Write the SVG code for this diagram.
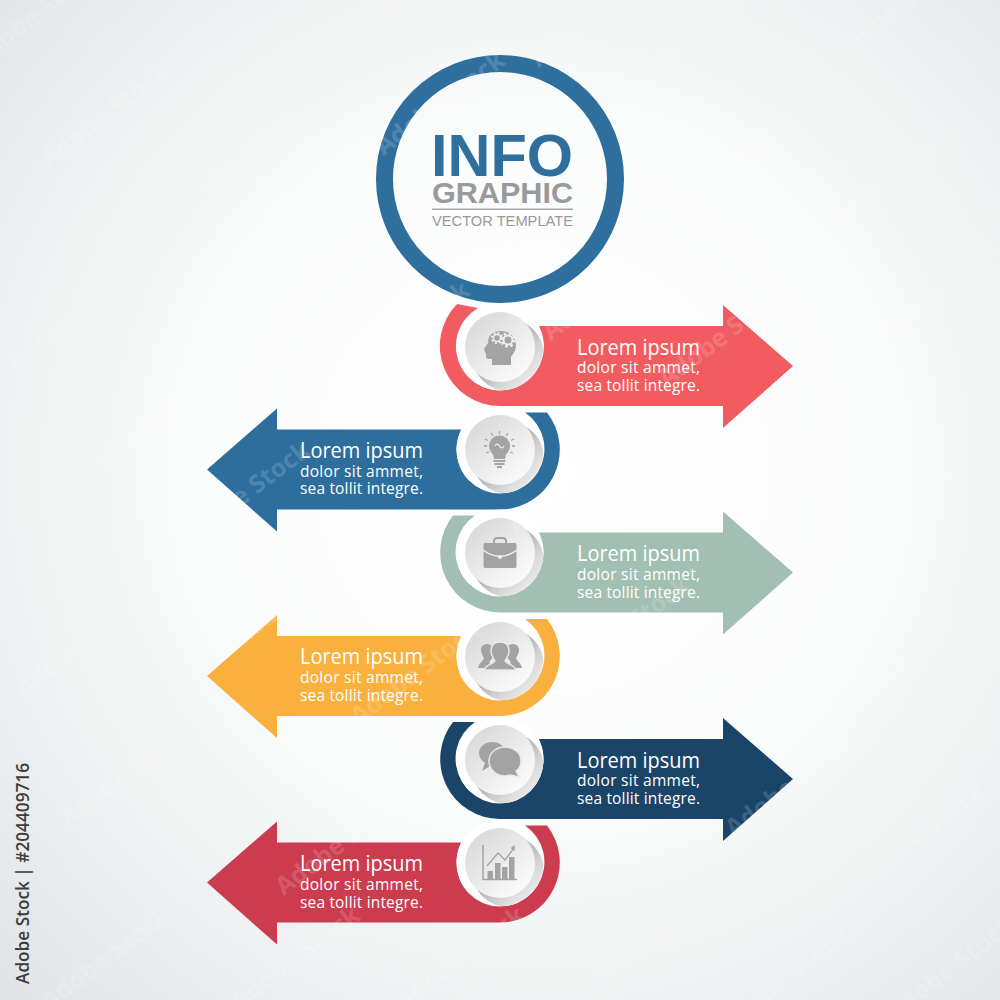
<svg xmlns="http://www.w3.org/2000/svg" xmlns:xlink="http://www.w3.org/1999/xlink" width="1000" height="1000" viewBox="0 0 1000 1000">
<style>
.wm{font:700 25px "Open Sans",sans-serif;fill:#fff;fill-opacity:.17;text-anchor:middle}
.t1{font:400 21px "Open Sans",sans-serif;fill:#fff}
.t2{font:400 15.5px "Open Sans",sans-serif;fill:#fff}
.ic{fill:#a3a3a3}
.icl{fill:none;stroke:#a3a3a3}
.icw{fill:none;stroke:#eeeeee}
.hd{font-family:"Liberation Sans",Arial,sans-serif}
</style>
<defs>
<radialGradient id="bg" gradientUnits="userSpaceOnUse" cx="540" cy="470" r="740">
<stop offset="0" stop-color="#ffffff"/><stop offset=".45" stop-color="#fbfcfc"/><stop offset="1" stop-color="#e2e5e7"/>
</radialGradient>
<linearGradient id="discG" x1=".15" y1=".1" x2=".85" y2=".9">
<stop offset="0" stop-color="#dadada"/><stop offset="1" stop-color="#fbfbfb"/>
</linearGradient>
<linearGradient id="shG" x1=".45" y1=".45" x2=".95" y2=".95">
<stop offset="0" stop-color="#b4b4b4"/><stop offset=".5" stop-color="#dcdcdc"/><stop offset="1" stop-color="#f8f8f8"/>
</linearGradient>
<clipPath id="ringClip"><circle r="43.5"/></clipPath>
<path id="arrowShape" d="M453,-37 A60,60 0 0 0 500,60 L723,60 L723,82 L793,20 L723,-41 L723,-20 L539,-20 A44,44 0 1 1 475,-37 Z"/>
<path id="arrowFirst" d="M457,-42 A60,60 0 0 0 500,60 L723,60 L723,82 L793,20 L723,-41 L723,-20 L539,-20 A44,44 0 1 1 478,-38 Z"/>
<g id="disc">
<circle r="43.5" fill="#fff"/>
<g clip-path="url(#ringClip)"><circle cx="8" cy="8" r="36" fill="url(#shG)"/></g>
<circle r="35" fill="url(#discG)"/>
</g>
<g id="wmT"><text class="wm" x="0" y="0" transform="rotate(-37)">Adobe Stock</text></g>
</defs>
<rect id="background" width="1000" height="1000" fill="url(#bg)"/>
<g id="connectors">
<use id="a1" href="#arrowFirst" y="346" fill="#f25c60"/>
<use id="a2" href="#arrowShape" transform="translate(1000,449.5) scale(-1,1)" fill="#2d6e9d"/>
<use id="a3" href="#arrowShape" y="552.5" fill="#a2bfb3"/>
<use id="a4" href="#arrowShape" transform="translate(1000,656) scale(-1,1)" fill="#f9b03d"/>
<use id="a5" href="#arrowShape" y="759" fill="#1b4469"/>
<use id="a6" href="#arrowShape" transform="translate(1000,862.500) scale(-1,1)" fill="#cc3b4e"/>
</g>
<g id="title">
<circle cx="500" cy="179" r="115.500" fill="none" stroke="#2f6f9e" stroke-width="17"/>
<text class="hd" x="431" y="176" font-size="60" font-weight="700" fill="#2f6f9e" textLength="142" lengthAdjust="spacingAndGlyphs">INFO</text>
<text class="hd" x="432" y="203" font-size="29.500" font-weight="700" fill="#999a9b" textLength="141" lengthAdjust="spacingAndGlyphs">GRAPHIC</text>
<rect x="432" y="208.500" width="141" height="1.500" fill="#a5a5a5"/>
<text class="hd" x="432" y="226" font-size="15.500" fill="#9a9a9a" textLength="141" lengthAdjust="spacingAndGlyphs">VECTOR TEMPLATE</text>
</g>
<g id="node1">
<use href="#disc" x="500" y="347"/>
<path class="ic" d="M484,349 L488,343 C488,334 494,331 501,331 C510,331 516,337 516,345 C516,351 513,354 511,357 L511,365 L492,365 L492,359 L488,359 C486,359 486,356 486,354 L485,352 Z"/>
<circle class="icw" cx="497" cy="338" r="3.500" stroke-width="1.500"/><circle class="icw" cx="497" cy="338" r="5" stroke-width="2" stroke-dasharray="2 1.900"/>
<circle class="icw" cx="508" cy="340" r="4.500" stroke-width="2"/><circle class="icw" cx="508" cy="340" r="6.500" stroke-width="2.500" stroke-dasharray="2.500 2.600"/>
<text class="t1" x="577" y="355" textLength="123" lengthAdjust="spacingAndGlyphs">Lorem ipsum</text>
<text class="t2" x="577" y="373" textLength="123" lengthAdjust="spacing">dolor sit ammet,</text>
<text class="t2" x="577" y="391" textLength="123" lengthAdjust="spacing">sea tollit integre.</text>
</g>
<g id="node2">
<use href="#disc" x="500" y="450"/>
<circle class="ic" cx="499.500" cy="446" r="10.500"/>
<path class="ic" d="M493,453 L506,453 L505,459 L494,459 Z"/>
<path class="icl" stroke-width="2" d="M493.500,461 H505.500 M494.500,464 H504.500 M497,467 H502"/>
<path class="icw" stroke-width="1.300" d="M495,446 C496.500,443.500 498,443.500 499.500,446 C501,448.500 502.500,448.500 504,446"/>
<path class="icl" stroke-width="1.300" d="M499.500,431 V434 M491,433 L493,436 M508,433 L506,436 M485,439 L488,440.500 M514,439 L511,440.500 M484,446 H487 M515,446 H512 M486,453 L489,452 M513,453 L510,452"/>
<text class="t1" x="300" y="457.500" textLength="123" lengthAdjust="spacingAndGlyphs">Lorem ipsum</text>
<text class="t2" x="300" y="476.500" textLength="123" lengthAdjust="spacing">dolor sit ammet,</text>
<text class="t2" x="300" y="494" textLength="123" lengthAdjust="spacing">sea tollit integre.</text>
</g>
<g id="node3">
<use href="#disc" x="500" y="553"/>
<path class="icl" stroke-width="2" d="M494,543 V541 C494,538.500 496,538 498,538 H502 C504,538 506,538.500 506,541 V543"/>
<path class="ic" d="M485,543 H515 Q516.500,543 516.500,545 V566 Q516.500,568 515,568 H485 Q483.500,568 483.500,566 V545 Q483.500,543 485,543 Z"/>
<path class="icw" stroke-width="1.500" d="M483,550 Q491,556 500,556.500 Q509,556 517,550"/>
<circle cx="500" cy="557" r="2" fill="#eeeeee"/>
<text class="t1" x="577" y="561" textLength="123" lengthAdjust="spacingAndGlyphs">Lorem ipsum</text>
<text class="t2" x="577" y="580" textLength="123" lengthAdjust="spacing">dolor sit ammet,</text>
<text class="t2" x="577" y="597.500" textLength="123" lengthAdjust="spacing">sea tollit integre.</text>
</g>
<g id="node4">
<use href="#disc" x="500" y="657"/>
<path class="ic" d="M487,644 C491,644 494,647 494,651 C494,656 491,660 490,661 L488,668 H478 C479,663 483,661 484,658 C482,655 481,652 481,650 C481,646 484,644 487,644 Z"/>
<path class="ic" d="M513,644 C509,644 506,647 506,651 C506,656 509,660 510,661 L512,668 H522 C521,663 517,661 516,658 C518,655 519,652 519,650 C519,646 516,644 513,644 Z"/>
<path class="ic" stroke="#e8e8e8" stroke-width="1.500" d="M500,642 C506,642 509,646 509,651 C509,656 506,659 505,661 C506,664 514,664 516,670 H484 C486,664 494,664 495,661 C494,659 491,656 491,651 C491,646 494,642 500,642 Z"/>
<text class="t1" x="300" y="664" textLength="123" lengthAdjust="spacingAndGlyphs">Lorem ipsum</text>
<text class="t2" x="300" y="683" textLength="123" lengthAdjust="spacing">dolor sit ammet,</text>
<text class="t2" x="300" y="700.500" textLength="123" lengthAdjust="spacing">sea tollit integre.</text>
</g>
<g id="node5">
<use href="#disc" x="500" y="760"/>
<path class="ic" d="M492,742 C501,742 506,748 506,754 C506,761 500,765 492,765 L482,771 L485,763 C481,760 479,757 479,753 C479,747 485,742 492,742 Z"/>
<path class="ic" stroke="#e8e8e8" stroke-width="1.500" d="M505,747 C514,747 521,753 521,761 C521,766 519,769 516,771 L519,777 L510,775 C508,775.500 506,776 505,776 C496,776 489,769 489,761 C489,753 496,747 505,747 Z"/>
<text class="t1" x="577" y="767.500" textLength="123" lengthAdjust="spacingAndGlyphs">Lorem ipsum</text>
<text class="t2" x="577" y="786" textLength="123" lengthAdjust="spacing">dolor sit ammet,</text>
<text class="t2" x="577" y="804" textLength="123" lengthAdjust="spacing">sea tollit integre.</text>
</g>
<g id="node6">
<use href="#disc" x="500" y="863"/>
<path class="icl" stroke-width="1.500" d="M483,845 V879.500 H517"/>
<rect class="ic" x="487.500" y="871" width="5.500" height="8"/><rect class="ic" x="495" y="863" width="5.500" height="16"/><rect class="ic" x="502" y="867" width="5.500" height="12"/><rect class="ic" x="509" y="857" width="5.500" height="22"/>
<path class="icl" stroke-width="1.300" d="M487,866 L498,853 L505,860 L514,848"/>
<path class="ic" d="M515,845 L514.500,851 L510.500,848 Z"/>
<text class="t1" x="300" y="871" textLength="123" lengthAdjust="spacingAndGlyphs">Lorem ipsum</text>
<text class="t2" x="300" y="890" textLength="123" lengthAdjust="spacing">dolor sit ammet,</text>
<text class="t2" x="300" y="907.500" textLength="123" lengthAdjust="spacing">sea tollit integre.</text>
</g>
<g id="watermark">
<use href="#wmT" x="40" y="22"/><use href="#wmT" x="110" y="122"/><use href="#wmT" x="237" y="165"/><use href="#wmT" x="370" y="30"/><use href="#wmT" x="600" y="22"/><use href="#wmT" x="712" y="32"/><use href="#wmT" x="900" y="16"/><use href="#wmT" x="775" y="140"/><use href="#wmT" x="900" y="182"/><use href="#wmT" x="445" y="110"/><use href="#wmT" x="612" y="295"/><use href="#wmT" x="282" y="292"/><use href="#wmT" x="410" y="340"/><use href="#wmT" x="76" y="325"/><use href="#wmT" x="122" y="452"/><use href="#wmT" x="945" y="296"/><use href="#wmT" x="908" y="515"/><use href="#wmT" x="728" y="342"/><use href="#wmT" x="786" y="456"/><use href="#wmT" x="578" y="490"/><use href="#wmT" x="250" y="500"/><use href="#wmT" x="290" y="610"/><use href="#wmT" x="85" y="652"/><use href="#wmT" x="130" y="782"/><use href="#wmT" x="630" y="635"/><use href="#wmT" x="752" y="672"/><use href="#wmT" x="795" y="792"/><use href="#wmT" x="925" y="840"/><use href="#wmT" x="948" y="645"/><use href="#wmT" x="420" y="680"/><use href="#wmT" x="345" y="850"/><use href="#wmT" x="640" y="952"/><use href="#wmT" x="790" y="985"/><use href="#wmT" x="110" y="965"/><use href="#wmT" x="300" y="965"/><use href="#wmT" x="465" y="965"/><use href="#wmT" x="955" y="975"/>
</g>
<text id="stock" x="0" y="0" transform="translate(29,984) rotate(-90)" font-family="Open Sans, sans-serif" font-size="18" font-weight="600" fill="#3c3c3c" textLength="221" lengthAdjust="spacingAndGlyphs">Adobe Stock | #204409716</text>
</svg>
